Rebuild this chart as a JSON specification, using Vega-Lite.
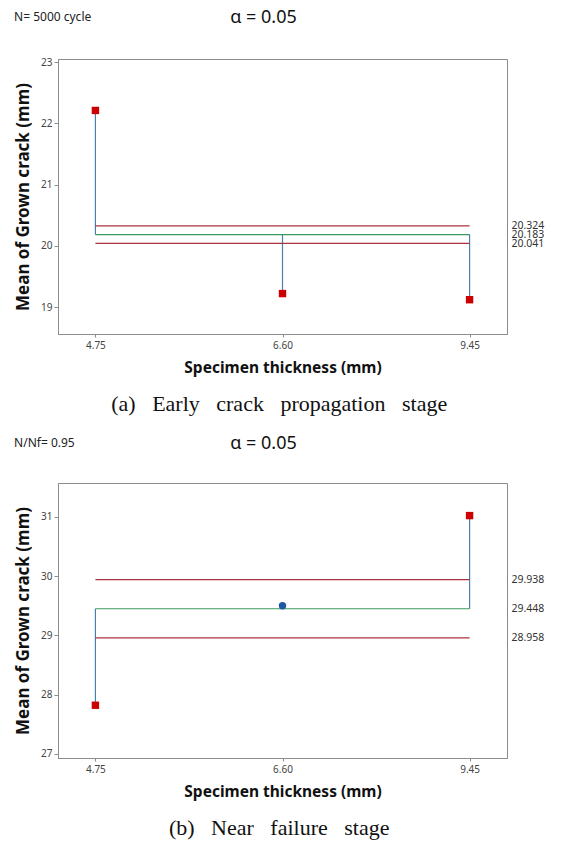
{
  "$schema": "https://vega.github.io/schema/vega-lite/v6.json",
  "padding": {"left": 14, "top": 8, "right": 5, "bottom": 5},
  "background": "white",
  "spacing": 19,
  "config": {
    "view": {"stroke": "#8c8c8c", "strokeWidth": 1},
    "axis": {
      "labelFont": "Noto Sans", "titleFont": "Noto Sans",
      "labelColor": "#444", "labelFontSize": 10,
      "titleColor": "#111", "titleFontWeight": "bold",
      "domainColor": "#8c8c8c", "tickColor": "#8c8c8c", "grid": false
    },
    "title": {"font": "Noto Sans", "color": "#111", "fontWeight": "normal"}
  },
  "datasets": {
    "a_means": [
      {"thickness": "4.75", "mean": 22.21, "center": 20.183, "status": "out"},
      {"thickness": "6.60", "mean": 19.22, "center": 20.183, "status": "out"},
      {"thickness": "9.45", "mean": 19.12, "center": 20.183, "status": "out"}
    ],
    "a_limits": [
      {"line": "UDL", "value": 20.324},
      {"line": "CL", "value": 20.183},
      {"line": "LDL", "value": 20.041}
    ],
    "b_means": [
      {"thickness": "4.75", "mean": 27.82, "center": 29.448, "status": "out"},
      {"thickness": "6.60", "mean": 29.50, "center": 29.448, "status": "in"},
      {"thickness": "9.45", "mean": 31.02, "center": 29.448, "status": "out"}
    ],
    "b_limits": [
      {"line": "UDL", "value": 29.938},
      {"line": "CL", "value": 29.448},
      {"line": "LDL", "value": 28.958}
    ]
  },
  "vconcat": [
    {
      "title": {"text": "(a)\u00a0\u00a0\u00a0Early\u00a0\u00a0\u00a0crack\u00a0\u00a0\u00a0propagation\u00a0\u00a0\u00a0stage", "orient": "bottom", "anchor": "middle", "font": "Liberation Serif", "fontSize": 22, "offset": 18},
      "vconcat": [
        {
          "title": {"text": "N= 5000 cycle", "anchor": "start", "fontSize": 12, "offset": -15, "color": "#222"},
          "vconcat": [
            {
              "width": 449, "height": 275,
              "title": {"text": "α = 0.05", "fontSize": 18, "anchor": "middle", "dx": -19, "offset": 30},
              "resolve": {"scale": {"y": "independent", "color": "independent"}},
              "layer": [
                {
                  "data": {"name": "a_means"},
                  "mark": {"type": "rule", "color": "#4a7fb0", "strokeWidth": 1.2},
                  "encoding": {
                    "x": {"field": "thickness", "type": "ordinal",
                      "scale": {"type": "point", "domain": ["4.75", "6.60", "9.45"], "padding": 0.2},
                      "axis": {"title": "Specimen thickness (mm)", "labelAngle": 0, "tickSize": 3, "labelPadding": 3, "titleFontSize": 15.5, "titlePadding": 10}},
                    "y": {"field": "mean", "type": "quantitative",
                      "scale": {"domain": [18.56, 23.05], "nice": false, "zero": false},
                      "axis": {"title": "Mean of Grown crack (mm)", "values": [19, 20, 21, 22, 23], "tickSize": 4, "labelPadding": 2, "titleFontSize": 17, "titlePadding": 8}},
                    "y2": {"field": "center"}
                  }
                },
                {
                  "data": {"name": "a_limits"},
                  "mark": {"type": "rule", "strokeWidth": 1.2},
                  "encoding": {
                    "x": {"datum": "4.75", "type": "ordinal"},
                    "x2": {"datum": "9.45"},
                    "y": {"field": "value", "type": "quantitative",
                      "scale": {"domain": [18.56, 23.05], "nice": false, "zero": false},
                      "axis": {"orient": "right", "title": null, "values": [20.324, 20.183, 20.041], "format": ".3f", "ticks": false, "domain": false, "labelPadding": 4, "labelOverlap": false, "labelFontSize": 10.5, "labelColor": "#333", "labelBound": false}},
                    "color": {"field": "line", "type": "nominal", "legend": null,
                      "scale": {"domain": ["UDL", "CL", "LDL"], "range": ["#a8323e", "#3a9a5b", "#a8323e"]}}
                  }
                },
                {
                  "data": {"name": "a_means"},
                  "mark": {"type": "point", "filled": true, "opacity": 1, "size": 55},
                  "encoding": {
                    "x": {"field": "thickness", "type": "ordinal"},
                    "y": {"field": "mean", "type": "quantitative", "scale": {"domain": [18.56, 23.05], "nice": false, "zero": false}, "axis": null},
                    "shape": {"field": "status", "type": "nominal", "legend": null, "scale": {"domain": ["out", "in"], "range": ["square", "circle"]}},
                    "color": {"field": "status", "type": "nominal", "legend": null, "scale": {"domain": ["out", "in"], "range": ["#cc0000", "#1f5aa0"]}}
                  }
                }
              ]
            }
          ]
        }
      ]
    },
    {
      "title": {"text": "(b)\u00a0\u00a0\u00a0Near\u00a0\u00a0\u00a0failure\u00a0\u00a0\u00a0stage", "orient": "bottom", "anchor": "middle", "font": "Liberation Serif", "fontSize": 22, "offset": 18},
      "vconcat": [
        {
          "title": {"text": "N/Nf= 0.95", "anchor": "start", "fontSize": 12, "offset": -15, "color": "#222"},
          "vconcat": [
            {
              "width": 449, "height": 275,
              "title": {"text": "α = 0.05", "fontSize": 18, "anchor": "middle", "dx": -19, "offset": 30},
              "resolve": {"scale": {"y": "independent", "color": "independent"}},
              "layer": [
                {
                  "data": {"name": "b_means"},
                  "mark": {"type": "rule", "color": "#4a7fb0", "strokeWidth": 1.2},
                  "encoding": {
                    "x": {"field": "thickness", "type": "ordinal",
                      "scale": {"type": "point", "domain": ["4.75", "6.60", "9.45"], "padding": 0.2},
                      "axis": {"title": "Specimen thickness (mm)", "labelAngle": 0, "tickSize": 3, "labelPadding": 3, "titleFontSize": 15.5, "titlePadding": 10}},
                    "y": {"field": "mean", "type": "quantitative",
                      "scale": {"domain": [26.93, 31.57], "nice": false, "zero": false},
                      "axis": {"title": "Mean of Grown crack (mm)", "values": [27, 28, 29, 30, 31], "tickSize": 4, "labelPadding": 2, "titleFontSize": 17, "titlePadding": 8}},
                    "y2": {"field": "center"}
                  }
                },
                {
                  "data": {"name": "b_limits"},
                  "mark": {"type": "rule", "strokeWidth": 1.2},
                  "encoding": {
                    "x": {"datum": "4.75", "type": "ordinal"},
                    "x2": {"datum": "9.45"},
                    "y": {"field": "value", "type": "quantitative",
                      "scale": {"domain": [26.93, 31.57], "nice": false, "zero": false},
                      "axis": {"orient": "right", "title": null, "values": [29.938, 29.448, 28.958], "format": ".3f", "ticks": false, "domain": false, "labelPadding": 4, "labelOverlap": false, "labelFontSize": 10.5, "labelColor": "#333", "labelBound": false}},
                    "color": {"field": "line", "type": "nominal", "legend": null,
                      "scale": {"domain": ["UDL", "CL", "LDL"], "range": ["#a8323e", "#3a9a5b", "#a8323e"]}}
                  }
                },
                {
                  "data": {"name": "b_means"},
                  "mark": {"type": "point", "filled": true, "opacity": 1, "size": 55},
                  "encoding": {
                    "x": {"field": "thickness", "type": "ordinal"},
                    "y": {"field": "mean", "type": "quantitative", "scale": {"domain": [26.93, 31.57], "nice": false, "zero": false}, "axis": null},
                    "shape": {"field": "status", "type": "nominal", "legend": null, "scale": {"domain": ["out", "in"], "range": ["square", "circle"]}},
                    "color": {"field": "status", "type": "nominal", "legend": null, "scale": {"domain": ["out", "in"], "range": ["#cc0000", "#1f5aa0"]}}
                  }
                }
              ]
            }
          ]
        }
      ]
    }
  ]
}
